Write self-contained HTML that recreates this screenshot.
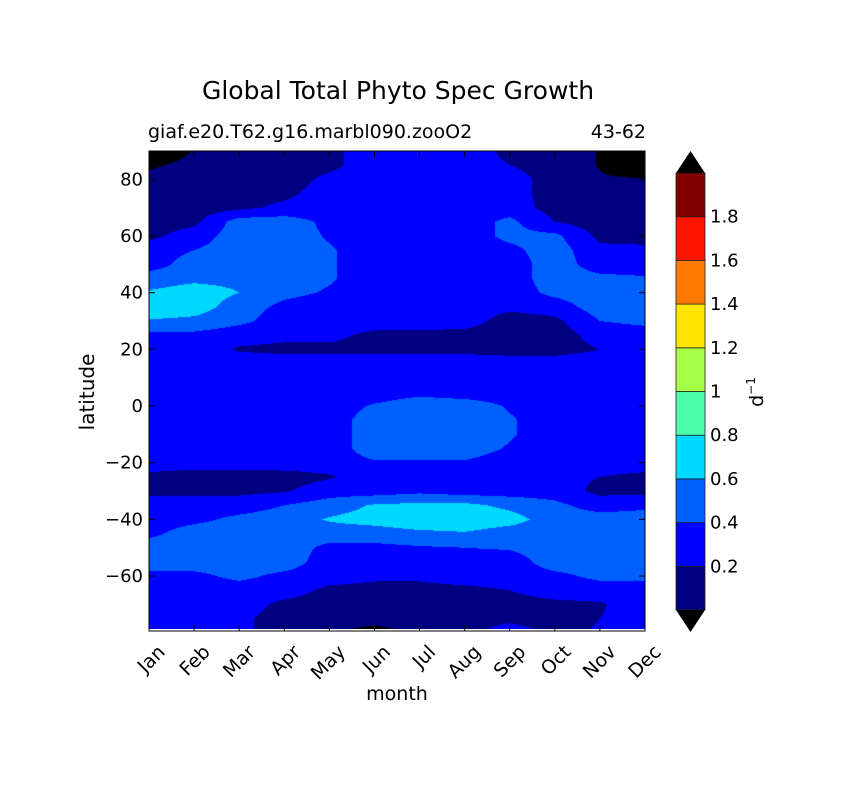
<!DOCTYPE html>
<html><head><meta charset="utf-8">
<style>
body{margin:0;background:#fff;width:848px;height:783px;overflow:hidden;font-family:"DejaVu Sans","Liberation Sans",sans-serif;}
</style></head>
<body>
<svg id="chart" width="848" height="783" xmlns="http://www.w3.org/2000/svg" font-family="DejaVu Sans, Liberation Sans, sans-serif">
<rect width="848" height="783" fill="#fff"/>
<text x="398" y="99" font-size="25" text-anchor="middle">Global Total Phyto Spec Growth</text>
<text x="148" y="138" font-size="19">giaf.e20.T62.g16.marbl090.zooO2</text>
<text x="646" y="138" font-size="19" text-anchor="end">43-62</text>
<foreignObject x="149" y="151" width="496" height="480"><canvas xmlns="http://www.w3.org/1999/xhtml" id="cv" width="496" height="478" style="display:block"></canvas></foreignObject>
<g id="axes"></g>
<text transform="translate(94,392) rotate(-90)" font-size="20" text-anchor="middle">latitude</text>
<text x="397" y="700" font-size="19" text-anchor="middle">month</text>
<g id="cbar"></g>
<text transform="translate(763,392) rotate(-90)" font-size="19" text-anchor="middle">d<tspan dy="-8" font-size="12">−1</tspan></text>
</svg>
<script>
const months=["Jan","Feb","Mar","Apr","May","Jun","Jul","Aug","Sep","Oct","Nov","Dec"];
const lats=[90,85,80,75,70,65,60,55,50,45,40,35,30,25,20,15,10,5,0,-5,-10,-15,-20,-25,-30,-35,-40,-45,-50,-55,-60,-65,-70,-75,-80];
const yTicks=[80,60,40,20,0,-20,-40,-60];
const levels=[0,0.2,0.4,0.6,0.8,1.0,1.2,1.4,1.6,1.8,2.0];
const levelLabels=["0.2","0.4","0.6","0.8","1","1.2","1.4","1.6","1.8"];
const levelColors=["#000080","#0000ff","#0060ff","#00d8ff","#4cffaa","#a8ff48","#ffe500","#ff7800","#ff1400","#800000"];
const growthJan=[-0.3,-0.05,0.1,0.1,0.1,0.1,0.15,0.3,0.3,0.5,0.62,0.75,0.58,0.35,0.3,0.3,0.3,0.3,0.3,0.3,0.3,0.3,0.3,0.15,0.15,0.3,0.3,0.35,0.5,0.5,0.35,0.3,0.3,0.3,0.3];
const growthFeb=[0.02,0.1,0.1,0.1,0.1,0.15,0.3,0.4,0.5,0.55,0.7,0.7,0.55,0.35,0.3,0.3,0.3,0.3,0.3,0.3,0.3,0.3,0.3,0.1,0.15,0.3,0.35,0.5,0.5,0.5,0.35,0.3,0.3,0.3,0.3];
const growthMar=[0.1,0.1,0.1,0.1,0.15,0.5,0.5,0.5,0.5,0.55,0.6,0.5,0.45,0.28,0.18,0.3,0.3,0.3,0.3,0.3,0.3,0.3,0.3,0.1,0.15,0.3,0.45,0.5,0.5,0.5,0.45,0.3,0.3,0.25,0.25];
const growthApr=[0.1,0.1,0.1,0.15,0.25,0.5,0.5,0.5,0.5,0.5,0.45,0.35,0.3,0.25,0.15,0.3,0.3,0.3,0.3,0.3,0.3,0.3,0.3,0.12,0.18,0.4,0.5,0.5,0.5,0.5,0.35,0.3,0.15,0.1,0.1];
const growthMay=[0.15,0.15,0.25,0.3,0.3,0.35,0.38,0.42,0.42,0.42,0.38,0.3,0.3,0.25,0.15,0.3,0.3,0.3,0.3,0.3,0.3,0.3,0.3,0.18,0.3,0.5,0.62,0.5,0.35,0.3,0.3,0.15,0.1,0.1,0.02];
const growthJun=[0.3,0.3,0.3,0.3,0.3,0.3,0.3,0.3,0.3,0.3,0.3,0.3,0.3,0.15,0.15,0.3,0.3,0.3,0.42,0.5,0.5,0.5,0.38,0.3,0.3,0.62,0.68,0.5,0.35,0.3,0.25,0.12,0.1,0.1,-0.1];
const growthJul=[0.3,0.3,0.3,0.3,0.3,0.3,0.3,0.3,0.3,0.3,0.3,0.3,0.3,0.15,0.15,0.3,0.3,0.35,0.5,0.55,0.55,0.5,0.38,0.3,0.35,0.65,0.75,0.55,0.38,0.3,0.25,0.12,0.08,0.1,0.05];
const growthAug=[0.3,0.3,0.3,0.3,0.3,0.3,0.3,0.3,0.3,0.3,0.3,0.3,0.3,0.12,0.15,0.3,0.3,0.3,0.5,0.55,0.55,0.5,0.38,0.3,0.3,0.65,0.75,0.58,0.4,0.3,0.3,0.15,0.1,0.12,0.15];
const growthSep=[0.15,0.2,0.3,0.3,0.3,0.45,0.45,0.35,0.3,0.3,0.3,0.25,0.1,0.1,0.12,0.3,0.3,0.3,0.38,0.42,0.42,0.38,0.3,0.3,0.3,0.55,0.68,0.5,0.42,0.3,0.3,0.2,0.12,0.15,0.3];
const growthOct=[0.1,0.1,0.1,0.1,0.12,0.2,0.45,0.5,0.5,0.5,0.45,0.3,0.15,0.1,0.12,0.3,0.3,0.3,0.3,0.3,0.3,0.3,0.3,0.25,0.3,0.45,0.5,0.5,0.5,0.5,0.35,0.3,0.15,0.12,0.15];
const growthNov=[-0.01,-0.01,0.02,0.1,0.1,0.1,0.15,0.25,0.3,0.45,0.5,0.5,0.4,0.28,0.2,0.3,0.3,0.3,0.3,0.3,0.3,0.3,0.3,0.2,0.15,0.3,0.5,0.5,0.5,0.5,0.45,0.3,0.18,0.2,0.22];
const growthDec=[-0.2,-0.2,0.02,0.1,0.1,0.1,0.12,0.25,0.3,0.42,0.5,0.58,0.45,0.3,0.3,0.3,0.3,0.3,0.3,0.3,0.3,0.3,0.3,0.15,0.15,0.35,0.5,0.5,0.5,0.5,0.45,0.3,0.3,0.3,0.3];
const grid=[growthJan,growthFeb,growthMar,growthApr,growthMay,growthJun,growthJul,growthAug,growthSep,growthOct,growthNov,growthDec];

const X0=149,X1=645,Y0=151,Y1=631,LATTOP=90,LATBOT=-79.4;
const xScale=i=>X0+(X1-X0)*i/(months.length-1);
const yScale=v=>Y0+(LATTOP-v)/(LATTOP-LATBOT)*(Y1-Y0);
const NS="http://www.w3.org/2000/svg";
function mk(tag,attrs,parent){const e=document.createElementNS(NS,tag);for(const k in attrs)e.setAttribute(k,attrs[k]);parent.appendChild(e);return e;}
function colorFor(v){if(v<levels[0])return [0,0,0];if(v>=levels[levels.length-1])return [0,0,0];
 for(let k=0;k<levels.length-1;k++){if(v<levels[k+1]){const c=levelColors[k];return [parseInt(c.substr(1,2),16),parseInt(c.substr(3,2),16),parseInt(c.substr(5,2),16)];}}return [0,0,0];}
const cv=document.getElementById('cv');
const ctx=cv.getContext('2d');const W=cv.width,H=cv.height;const img=ctx.createImageData(W,H);
const latStep=lats[0]-lats[1];
for(let py=0;py<H;py++){const lat=LATTOP-(py+0.5)/(Y1-Y0)*(LATTOP-LATBOT);
 let r=(lats[0]-lat)/latStep;let r0=Math.min(Math.floor(r),lats.length-2);r0=Math.max(r0,0);const fr=Math.min(Math.max(r-r0,0),1);
 for(let px=0;px<W;px++){const m=(px+0.5)/W*(months.length-1);let m0=Math.min(Math.floor(m),months.length-2);const fm=m-m0;
  const v=(grid[m0][r0]*(1-fm)+grid[m0+1][r0]*fm)*(1-fr)+(grid[m0][r0+1]*(1-fm)+grid[m0+1][r0+1]*fm)*fr;
  const c=colorFor(v);const o=(py*W+px)*4;img.data[o]=c[0];img.data[o+1]=c[1];img.data[o+2]=c[2];img.data[o+3]=255;}}
ctx.putImageData(img,0,0);
const ax=document.getElementById('axes');
const frame=mk('rect',{x:X0,y:Y0,width:X1-X0,height:Y1-Y0,fill:'none',stroke:'#000','stroke-width':1},ax);

yTicks.forEach(t=>{const y=yScale(t);
 mk('line',{x1:X0,x2:X0+6,y1:y,y2:y,stroke:'#000'},ax);mk('line',{x1:X1-6,x2:X1,y1:y,y2:y,stroke:'#000'},ax);
 const tx=mk('text',{x:X0-6,y:y+6,'font-size':18,'text-anchor':'end'},ax);tx.textContent=(t<0?'−':'')+Math.abs(t);
 
 });
months.forEach((mo,i)=>{const x=xScale(i);
 mk('line',{x1:x,x2:x,y1:Y1,y2:Y1-6,stroke:'#000'},ax);mk('line',{x1:x,x2:x,y1:Y0,y2:Y0+6,stroke:'#000'},ax);
 const tx=mk('text',{transform:`translate(${x+5},${Y1+10}) rotate(-45)`,'font-size':19,'text-anchor':'end',dy:'0.9em'},ax);tx.textContent=mo;
 
 });
const cb=document.getElementById('cbar');const CX=676,CW=29,CT=173,CB=610;
const cbY=v=>CB-(v-levels[0])/(levels[levels.length-1]-levels[0])*(CB-CT);
for(let k=0;k<levelColors.length;k++){const r=mk('rect',{x:CX,y:cbY(levels[k+1]),width:CW,height:cbY(levels[k])-cbY(levels[k+1]),fill:levelColors[k],stroke:'#222','stroke-width':0.8},cb);
 
 }
const tu=mk('polygon',{points:`${CX},${CT} ${CX+CW},${CT} ${CX+CW/2},151`,fill:'#000'},cb);

const td=mk('polygon',{points:`${CX},${CB} ${CX+CW},${CB} ${CX+CW/2},632`,fill:'#000'},cb);

levelLabels.forEach((l,k)=>{const y=cbY(levels[k+1]);
 const tx=mk('text',{x:CX+CW+5,y:y+6,'font-size':18},cb);tx.textContent=l;
 
 });
</script>
</body></html>
